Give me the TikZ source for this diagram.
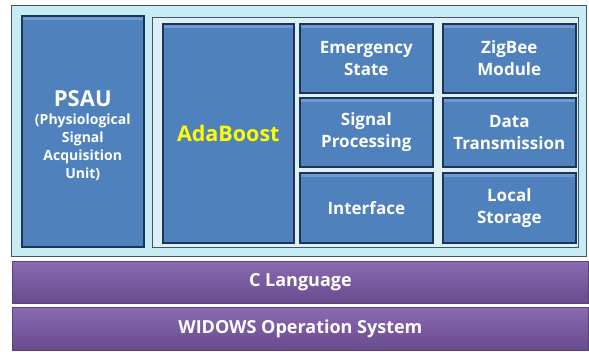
\documentclass[tikz,border=0pt]{standalone}
\usepackage{fontspec}
\setmainfont{Open Sans}
\definecolor{outerfill}{HTML}{C8ECF4}
\definecolor{innerfill}{HTML}{DDF0F6}
\definecolor{frameline}{HTML}{3E5666}
\definecolor{boxblue}{HTML}{4F81BD}
\definecolor{boxhi}{HTML}{6F9BD2}
\definecolor{boxline}{HTML}{1A3556}
\definecolor{purpletop}{HTML}{8A6AB2}
\definecolor{purplebot}{HTML}{684A8E}
\definecolor{purpleline}{HTML}{5A427A}
\definecolor{adayellow}{HTML}{FFFF00}
\begin{document}
\begin{tikzpicture}[x=1pt,y=-1pt,
  frame/.style={draw=frameline, line width=1.4pt, inner sep=0pt, anchor=north west},
  blk/.style={draw=boxline, line width=1.6pt, fill=boxblue, inner sep=0pt,
    anchor=north west, text=white, align=center,
    font=\bfseries\fontsize{17}{22}\selectfont,
    path picture={\fill[boxhi]
      ([yshift=-1pt]path picture bounding box.north west) rectangle
      ([yshift=-4pt]path picture bounding box.north east);}},
  bar/.style={draw=purpleline, line width=0.8pt, top color=purpletop,
    bottom color=purplebot, inner sep=0pt, anchor=north west,
    minimum width=576, text=white,
    font=\bfseries\fontsize{18}{22}\selectfont}]
  \useasboundingbox (0,0) rectangle (589,351);
  % platform frame and application frame
  \node[frame, fill=outerfill, minimum width=575, minimum height=251] (outer) at (11,5) {};
  \node[frame, fill=innerfill, minimum width=426, minimum height=230] (inner) at (152,17) {};
  % acquisition unit
  \node[blk, minimum width=122, minimum height=231,
    font=\bfseries\fontsize{14}{18}\selectfont] (psau) at (21,15)
    {\fontsize{22}{26}\selectfont\rule{0pt}{25pt}PSAU\\[0pt]
     \fontsize{14}{18}\selectfont (Physiological\\Signal\\Acquisition\\Unit)};
  % classifier
  \node[blk, minimum width=131, minimum height=219, text=adayellow,
    font=\bfseries\fontsize{21.5}{26}\selectfont] (ada) at (162,23) {AdaBoost};
  % application modules
  \node[blk, minimum width=133, minimum height=69] (emer) at (299,23) {Emergency\\State};
  \node[blk, minimum width=133, minimum height=69] (zig)  at (442,23) {ZigBee\\Module};
  \node[blk, minimum width=133, minimum height=69] (sig)  at (299,97) {Signal\\Processing};
  \node[blk, minimum width=133, minimum height=69] (data) at (442,97) {Data\\Transmission};
  \node[blk, minimum width=133, minimum height=70] (intf) at (299,172) {Interface};
  \node[blk, minimum width=133, minimum height=70] (stor) at (442,172) {Local\\Storage};
  % language and operating system layers
  \node[bar, minimum height=42] (clang) at (12,261) {C Language};
  \node[bar, minimum height=43] (os) at (12,307) {WIDOWS Operation System};
\end{tikzpicture}
\end{document}
